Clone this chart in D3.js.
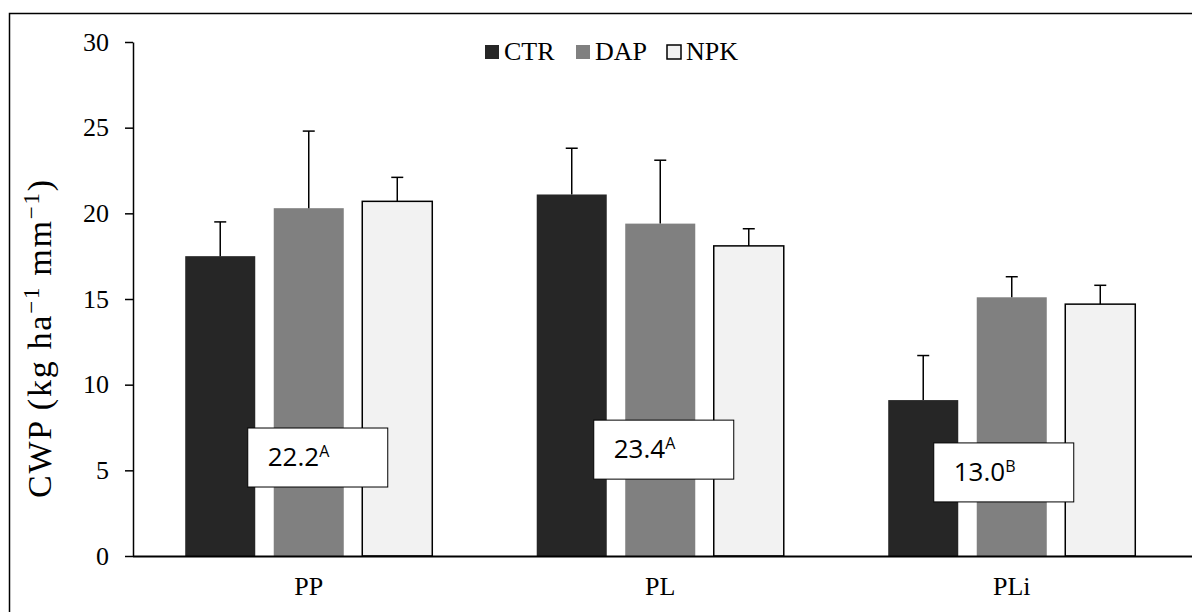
<!DOCTYPE html>
<html><head><meta charset="utf-8">
<script src="https://cdn.jsdelivr.net/npm/d3@7"></script>
<style>body{margin:0;background:#fff}svg{display:block}</style>
</head><body>
<svg id="chart" width="1192" height="612"></svg>
<script>
// ---- data ----
const categories = ["PP", "PL", "PLi"];
const seriesNames = ["CTR", "DAP", "NPK"];
const ctrValues = [17.5, 21.1, 9.1];
const ctrErrors = [2.0, 2.7, 2.6];
const dapValues = [20.3, 19.4, 15.1];
const dapErrors = [4.5, 3.7, 1.2];
const npkValues = [20.7, 18.1, 14.7];
const npkErrors = [1.4, 1.0, 1.1];
const yTicks = [0, 5, 10, 15, 20, 25, 30];
const boxValues = ["22.2", "23.4", "13.0"];
const boxLetters = ["A", "A", "B"];

// ---- layout ----
const svg = d3.select("#chart");
const fills = {CTR: "#262626", DAP: "#808080", NPK: "#f2f2f2"};
const serif = "'Liberation Serif','Times New Roman',serif";
const sans = "'Open Sans','Noto Sans',sans-serif";

svg.append("rect").attr("x", 9.5).attr("y", 13.5).attr("width", 1200).attr("height", 620)
  .attr("fill", "none").attr("stroke", "#000").attr("stroke-width", 1.5);

const y = d3.scaleLinear().domain([0, 30]).range([556, 42]);
const x0 = d3.scaleBand().domain(categories).range([133, 1187.5]).paddingInner(0).paddingOuter(0);
const x1 = d3.scaleBand().domain(seriesNames).range([0, x0.bandwidth()]).paddingInner(0.209).paddingOuter(0.59);

const table = seriesNames.map((s, i) => ({
  name: s,
  values: [ctrValues, dapValues, npkValues][i],
  errors: [ctrErrors, dapErrors, npkErrors][i]
}));

// y axis
const yAxis = svg.append("g").attr("transform", "translate(133,0)")
  .call(d3.axisLeft(y).tickValues(yTicks).tickSize(8).tickPadding(16).tickSizeOuter(0));
yAxis.select(".domain").attr("stroke", "#000").attr("stroke-width", 1.5);
yAxis.selectAll(".tick line").attr("stroke", "#000").attr("stroke-width", 1.5);
yAxis.selectAll(".tick text").attr("font-family", serif).attr("font-size", 26).attr("fill", "#000");

// bars
const groups = svg.selectAll("g.cat").data(categories).enter().append("g")
  .attr("class", "cat").attr("transform", d => `translate(${x0(d)},0)`);

table.forEach(s => {
  groups.append("rect")
    .attr("x", x1(s.name))
    .attr("y", (d, i) => y(s.values[i]))
    .attr("width", x1.bandwidth())
    .attr("height", (d, i) => y(0) - y(s.values[i]))
    .attr("fill", fills[s.name])
    .attr("stroke", s.name === "NPK" ? "#000" : "none")
    .attr("stroke-width", 1.5);
  const cx = x1(s.name) + x1.bandwidth() / 2;
  groups.append("line")
    .attr("x1", cx).attr("x2", cx)
    .attr("y1", (d, i) => y(s.values[i]))
    .attr("y2", (d, i) => y(s.values[i] + s.errors[i]))
    .attr("stroke", "#000").attr("stroke-width", 1.5);
  groups.append("line")
    .attr("x1", cx - 6).attr("x2", cx + 6)
    .attr("y1", (d, i) => y(s.values[i] + s.errors[i]))
    .attr("y2", (d, i) => y(s.values[i] + s.errors[i]))
    .attr("stroke", "#000").attr("stroke-width", 1.5);
});

// x axis
svg.append("line").attr("x1", 133).attr("x2", 1192).attr("y1", 556.5).attr("y2", 556.5)
  .attr("stroke", "#000").attr("stroke-width", 1.8);
svg.selectAll("text.xlab").data(categories).enter().append("text")
  .attr("class", "xlab")
  .attr("x", d => x0(d) + x0.bandwidth() / 2)
  .attr("y", 595)
  .attr("text-anchor", "middle")
  .attr("font-family", serif).attr("font-size", 26)
  .text(d => d);

// annotation boxes (positions in layout)
const boxDx = [9, 3.5, -8];
const boxTopVal = [7.47, 7.93, 6.6];
categories.forEach((c, i) => {
  const cx = x0(c) + x0.bandwidth() / 2 + boxDx[i];
  const top = y(boxTopVal[i]);
  svg.append("rect").attr("x", cx - 70).attr("y", top).attr("width", 140).attr("height", 59)
    .attr("fill", "#fff").attr("stroke", "#000").attr("stroke-width", 1);
  const t = svg.append("text").attr("x", cx - 50).attr("y", top + 38)
    .attr("font-family", sans).attr("font-size", 26).attr("fill", "#000");
  t.append("tspan").text(boxValues[i]);
  t.append("tspan").attr("dy", -9).attr("font-size", 16).text(boxLetters[i]);
});

// legend
const legend = svg.append("g");
seriesNames.forEach((s, i) => {
  const lx = 485 + i * 91;
  legend.append("rect").attr("x", lx).attr("y", 45).attr("width", 14).attr("height", 14)
    .attr("fill", fills[s]).attr("stroke", s === "NPK" ? "#000" : "none").attr("stroke-width", 1.5);
  legend.append("text").attr("x", lx + 19).attr("y", 60)
    .attr("font-family", serif).attr("font-size", 26).text(s);
});

// y label
const yl = svg.append("text")
  .attr("transform", "translate(51,339) rotate(-90)")
  .attr("text-anchor", "middle")
  .attr("font-family", serif).attr("font-size", 34).attr("fill", "#000")
  .attr("textLength", 318).attr("lengthAdjust", "spacing");
yl.append("tspan").text("CWP (kg ha");
yl.append("tspan").attr("dy", -12).attr("font-size", 23).text("\u22121");
yl.append("tspan").attr("dy", 12).text(" mm");
yl.append("tspan").attr("dy", -12).attr("font-size", 23).text("\u22121");
yl.append("tspan").attr("dy", 12).text(")");
</script>
</body></html>
